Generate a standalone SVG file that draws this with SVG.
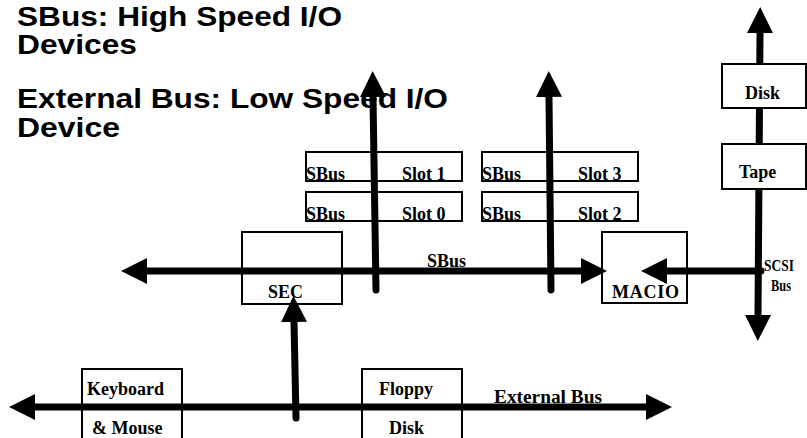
<svg xmlns="http://www.w3.org/2000/svg" width="807" height="438" viewBox="0 0 807 438">
<style>
.box{fill:none;stroke:#000;stroke-width:2}
.wbox{fill:#fff;stroke:#000;stroke-width:2}
.lbl{font-family:"Liberation Serif","Times New Roman",serif;font-weight:bold;font-size:18px;fill:#000}
.sm{font-size:17px}
.ttl{font-family:"Liberation Sans",Arial,sans-serif;font-weight:bold;font-size:28px;fill:#000}
.bus{fill:none;stroke:#000;stroke-width:7}
</style>
<defs>
<marker id="ah" viewBox="0 0 26 26" refX="0" refY="13" markerWidth="26" markerHeight="26" markerUnits="userSpaceOnUse" orient="auto-start-reverse">
<path d="M0,0 L26,13 L0,26 Z" fill="#000"/>
</marker>
</defs>
<rect width="807" height="438" fill="#fff"/>
<g id="title">
<text class="ttl" x="17" y="26" textLength="325" lengthAdjust="spacingAndGlyphs">SBus: High Speed I/O</text>
<text class="ttl" x="17" y="54" textLength="120" lengthAdjust="spacingAndGlyphs">Devices</text>
<text class="ttl" x="17" y="108" textLength="431" lengthAdjust="spacingAndGlyphs">External Bus: Low Speed I/O</text>
<text class="ttl" x="17" y="137" textLength="103" lengthAdjust="spacingAndGlyphs">Device</text>
</g>
<g id="slot1"><rect class="box" x="306" y="152" width="156" height="29"/><text class="lbl" x="306" y="180">SBus</text><text class="lbl" x="402" y="180">Slot 1</text></g>
<g id="slot0"><rect class="box" x="306" y="192" width="156" height="29"/><text class="lbl" x="306" y="220">SBus</text><text class="lbl" x="402" y="220">Slot 0</text></g>
<g id="slot3"><rect class="box" x="482" y="152" width="156" height="29"/><text class="lbl" x="482" y="180">SBus</text><text class="lbl" x="578" y="180">Slot 3</text></g>
<g id="slot2"><rect class="box" x="482" y="192" width="156" height="29"/><text class="lbl" x="482" y="220">SBus</text><text class="lbl" x="578" y="220">Slot 2</text></g>
<g id="sec"><rect class="box" x="242" y="232" width="100" height="72"/><text class="lbl" x="268" y="298">SEC</text></g>
<g id="macio"><rect class="box" x="602" y="232" width="85" height="71"/><text class="lbl" x="612" y="298" textLength="67">MACIO</text></g>
<g id="keyboard"><rect class="box" x="82" y="369" width="100" height="80"/><text class="lbl" x="87" y="395">Keyboard</text><text class="lbl" x="92" y="434">&amp; Mouse</text></g>
<g id="floppy"><rect class="box" x="362" y="369" width="100" height="80"/><text class="lbl" x="379" y="395">Floppy</text><text class="lbl" x="389" y="434">Disk</text></g>
<g id="connectors">
<line class="bus" x1="147" y1="271" x2="581" y2="271" marker-start="url(#ah)" marker-end="url(#ah)"/>
<line class="bus" x1="376" y1="290" x2="373" y2="97" stroke-linecap="round" marker-end="url(#ah)"/>
<line class="bus" x1="551" y1="290" x2="549" y2="97" stroke-linecap="round" marker-end="url(#ah)"/>
<line class="bus" x1="761" y1="271" x2="667" y2="271" stroke-linecap="round" marker-end="url(#ah)"/>
<line class="bus" x1="760" y1="33" x2="758" y2="315" marker-start="url(#ah)" marker-end="url(#ah)"/>
<line class="bus" x1="296" y1="418" x2="294" y2="322" stroke-linecap="round" marker-end="url(#ah)"/>
<line class="bus" x1="35" y1="407" x2="646" y2="407" marker-start="url(#ah)" marker-end="url(#ah)"/>
</g>
<g id="bus-labels">
<text class="lbl" x="427" y="267" textLength="39">SBus</text>
<text class="lbl" x="494" y="403" textLength="108" lengthAdjust="spacingAndGlyphs">External Bus</text>
<text class="lbl sm" x="764" y="271" textLength="30" lengthAdjust="spacingAndGlyphs">SCSI</text>
<text class="lbl sm" x="771" y="291" textLength="20" lengthAdjust="spacingAndGlyphs">Bus</text>
</g>
<g id="disk"><rect class="wbox" x="722" y="64" width="84" height="44"/><text class="lbl" x="745" y="99">Disk</text></g>
<g id="tape"><rect class="wbox" x="722" y="144" width="84" height="45"/><text class="lbl" x="739" y="178">Tape</text></g>
</svg>
